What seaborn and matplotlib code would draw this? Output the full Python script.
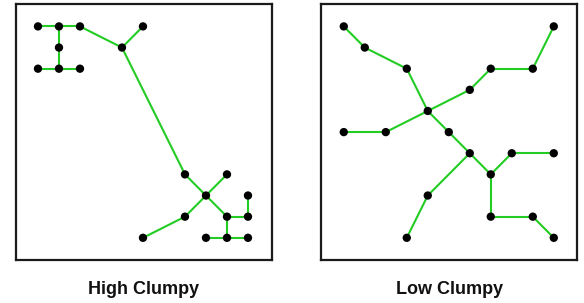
import matplotlib
matplotlib.use("Agg")
import matplotlib.pyplot as plt
import seaborn as sns
import pandas as pd

sns.set_theme(style="white")
plt.rcParams['font.family'] = ['Liberation Sans', 'DejaVu Sans']

titles = ["High Clumpy", "Low Clumpy"]

# node grid coordinates (column, row), rows counted from top
high_x = [0, 1, 2, 5, 1, 4, 0, 1, 2, 7, 9, 8, 10, 7, 9, 10, 5, 8, 9, 10]
high_y = [0, 0, 0, 0, 1, 1, 2, 2, 2, 7, 7, 8, 8, 9, 9, 9, 10, 10, 10, 10]
high_edges = [(0, 1), (1, 2), (1, 4), (4, 7), (6, 7), (7, 8), (2, 5), (3, 5),
              (5, 9), (9, 11), (10, 11), (11, 13), (13, 16), (11, 14),
              (14, 15), (15, 12), (14, 18), (17, 18), (18, 19)]

low_x = [0, 10, 1, 3, 7, 9, 6, 4, 0, 2, 5, 6, 8, 10, 7, 4, 7, 9, 3, 10]
low_y = [0, 0, 1, 2, 2, 2, 3, 4, 5, 5, 5, 6, 6, 6, 7, 8, 9, 9, 10, 10]
low_edges = [(0, 2), (2, 3), (3, 7), (8, 9), (9, 7), (7, 6), (6, 4), (4, 5),
             (5, 1), (7, 10), (10, 11), (11, 14), (11, 15), (15, 18),
             (14, 12), (12, 13), (14, 16), (16, 17), (17, 19)]

panels = [(high_x, high_y, high_edges), (low_x, low_y, low_edges)]

fig = plt.figure(figsize=(5.84, 3.03), dpi=100)
lefts = [15.5 / 584, 321.3 / 584]
w = 256 / 584
h = 256 / 303
b = 1 - 260 / 303

for k, (xs, ys, edges) in enumerate(panels):
    ax = fig.add_axes([lefts[k], b, w, h])
    rows = []
    for i, (a, c) in enumerate(edges):
        rows.append({"edge": i, "x": xs[a], "y": ys[a], "o": 0})
        rows.append({"edge": i, "x": xs[c], "y": ys[c], "o": 1})
    edf = pd.DataFrame(rows)
    sns.lineplot(data=edf, x="x", y="y", units="edge", estimator=None,
                 sort=False, color="#22cc22", linewidth=1.5, ax=ax, zorder=1)
    ndf = pd.DataFrame({"x": xs, "y": ys})
    sns.scatterplot(data=ndf, x="x", y="y", color="black", s=36,
                    edgecolor="none", ax=ax, zorder=2)
    ax.set_xlim(-1.07, 11.12)
    ax.set_ylim(11.05, -1.06)
    ax.set_xticks([])
    ax.set_yticks([])
    ax.set_xlabel("")
    ax.set_ylabel("")
    for sp in ax.spines.values():
        sp.set_visible(True)
        sp.set_color("#1a1a1a")
        sp.set_linewidth(1.6)
    fig.text(lefts[k] + w / 2, 1 - 294.5 / 303, titles[k], ha="center",
             va="baseline", fontsize=13, fontweight="bold", color="#111111")

fig.savefig("out.png", dpi=100)
